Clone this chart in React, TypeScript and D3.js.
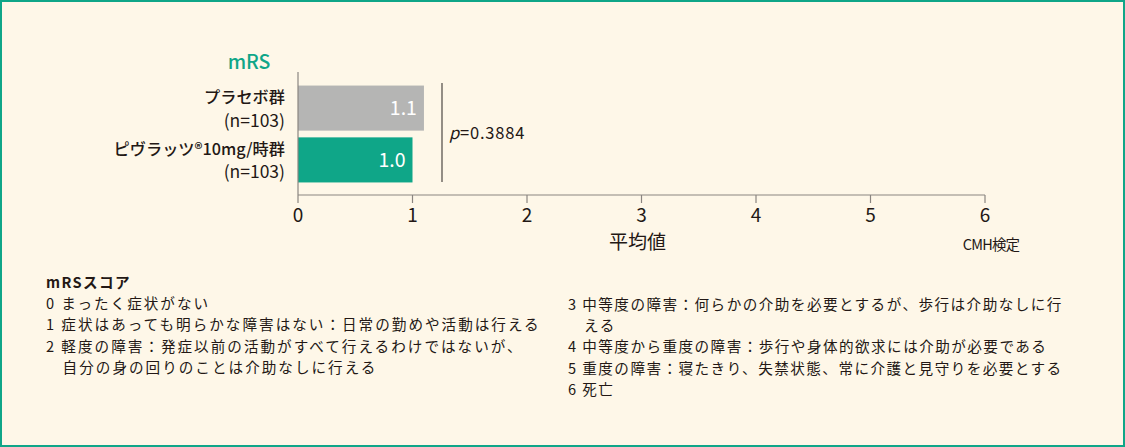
import React from "react";
import * as d3 from "d3";

const groups = ["プラセボ群", "ピヴラッツ®10mg/時群"];
const groupNs = ["(n=103)", "(n=103)"];
const means = [1.1, 1.0];
const barColors = ["#b5b5b4", "#0fa688"];
const valueLabels = ["1.1", "1.0"];
const xTicks = [0, 1, 2, 3, 4, 5, 6];
const pText = "=0.3884";
const legendLeft = [
  "0 まったく症状がない",
  "1 症状はあっても明らかな障害はない：日常の勤めや活動は行える",
  "2 軽度の障害：発症以前の活動がすべて行えるわけではないが、",
  "　自分の身の回りのことは介助なしに行える",
];
const legendRight = [
  "3 中等度の障害：何らかの介助を必要とするが、歩行は介助なしに行",
  "　える",
  "4 中等度から重度の障害：歩行や身体的欲求には介助が必要である",
  "5 重度の障害：寝たきり、失禁状態、常に介護と見守りを必要とする",
  "6 死亡",
];

const W = 1125;
const H = 447;
const FONT = "'Noto Sans CJK JP', 'Noto Sans', sans-serif";
const TEXT = "#231815";
const TEAL = "#0fa688";

export default function App() {
  const x = d3.scaleLinear().domain([0, 6]).range([298, 985]);
  const y = d3.scaleBand<string>().domain(groups).range([84, 184]).paddingInner(0.13).paddingOuter(0.03);
  const axisY = 195;
  const bw = y.bandwidth();
  return (
    <svg width={W} height={H} style={{ position: "absolute", left: 0, top: 0 }} fontFamily={FONT}>
      <rect x={1} y={1} width={W - 2} height={H - 2} fill="#fef7e8" stroke={TEAL} strokeWidth={2} />
      <text x={249} y={69} textAnchor="middle" fontSize={19.5} fill={TEAL} fontWeight={500}>mRS</text>
      {groups.map((g, i) => {
        const y0 = y(g)!;
        return (
          <g key={g}>
            <rect x={x(0)} y={y0} width={x(means[i]) - x(0)} height={bw} fill={barColors[i]} />
            <text x={x(means[i]) - 7} y={y0 + bw / 2 + 7} textAnchor="end" fontSize={19.5} fill="#fff">{valueLabels[i]}</text>
            <text x={285} y={y0 + 17.5} textAnchor="end" fontSize={16.2} fontWeight={500} fill={TEXT}>{g}</text>
            <text x={285} y={y0 + 41} textAnchor="end" fontSize={17.5} fill={TEXT}>{groupNs[i]}</text>
          </g>
        );
      })}
      <line x1={x(0)} x2={x(0)} y1={72} y2={axisY} stroke="#8a8580" strokeWidth={1.2} />
      <line x1={x(0)} x2={x(6)} y1={axisY} y2={axisY} stroke="#8a8580" strokeWidth={1.2} />
      {xTicks.map((t) => (
        <g key={t}>
          <line x1={x(t)} x2={x(t)} y1={axisY} y2={axisY + 8} stroke="#8a8580" strokeWidth={1.2} />
          <text x={x(t)} y={axisY + 27} textAnchor="middle" fontSize={19} fill={TEXT}>{t}</text>
        </g>
      ))}
      <line x1={442} x2={442} y1={83} y2={182} stroke="#5a5550" strokeWidth={1.3} />
      <text x={449} y={139} fontSize={16.5} fill={TEXT} letterSpacing={0.8}>
        <tspan fontStyle="italic">p</tspan>{pText}
      </text>
      <text x={x(3) - 4} y={249} textAnchor="middle" fontSize={19} fill={TEXT}>平均値</text>
      <text x={991} y={250} textAnchor="middle" fontSize={14.5} fill={TEXT} letterSpacing={-0.8}>CMH検定</text>
      <text x={46} y={288} fontSize={14.6} fontWeight={700} fill={TEXT} letterSpacing={1.4}>mRSスコア</text>
      {legendLeft.map((s, i) => (
        <text key={i} x={46} y={308.5 + i * 21.6} fontSize={14.6} fill={TEXT} letterSpacing={2.0}>{s}</text>
      ))}
      {legendRight.map((s, i) => (
        <text key={i} x={568} y={309.5 + i * 21.4} fontSize={14.6} fill={TEXT} letterSpacing={1.45}>{s}</text>
      ))}
    </svg>
  );
}
